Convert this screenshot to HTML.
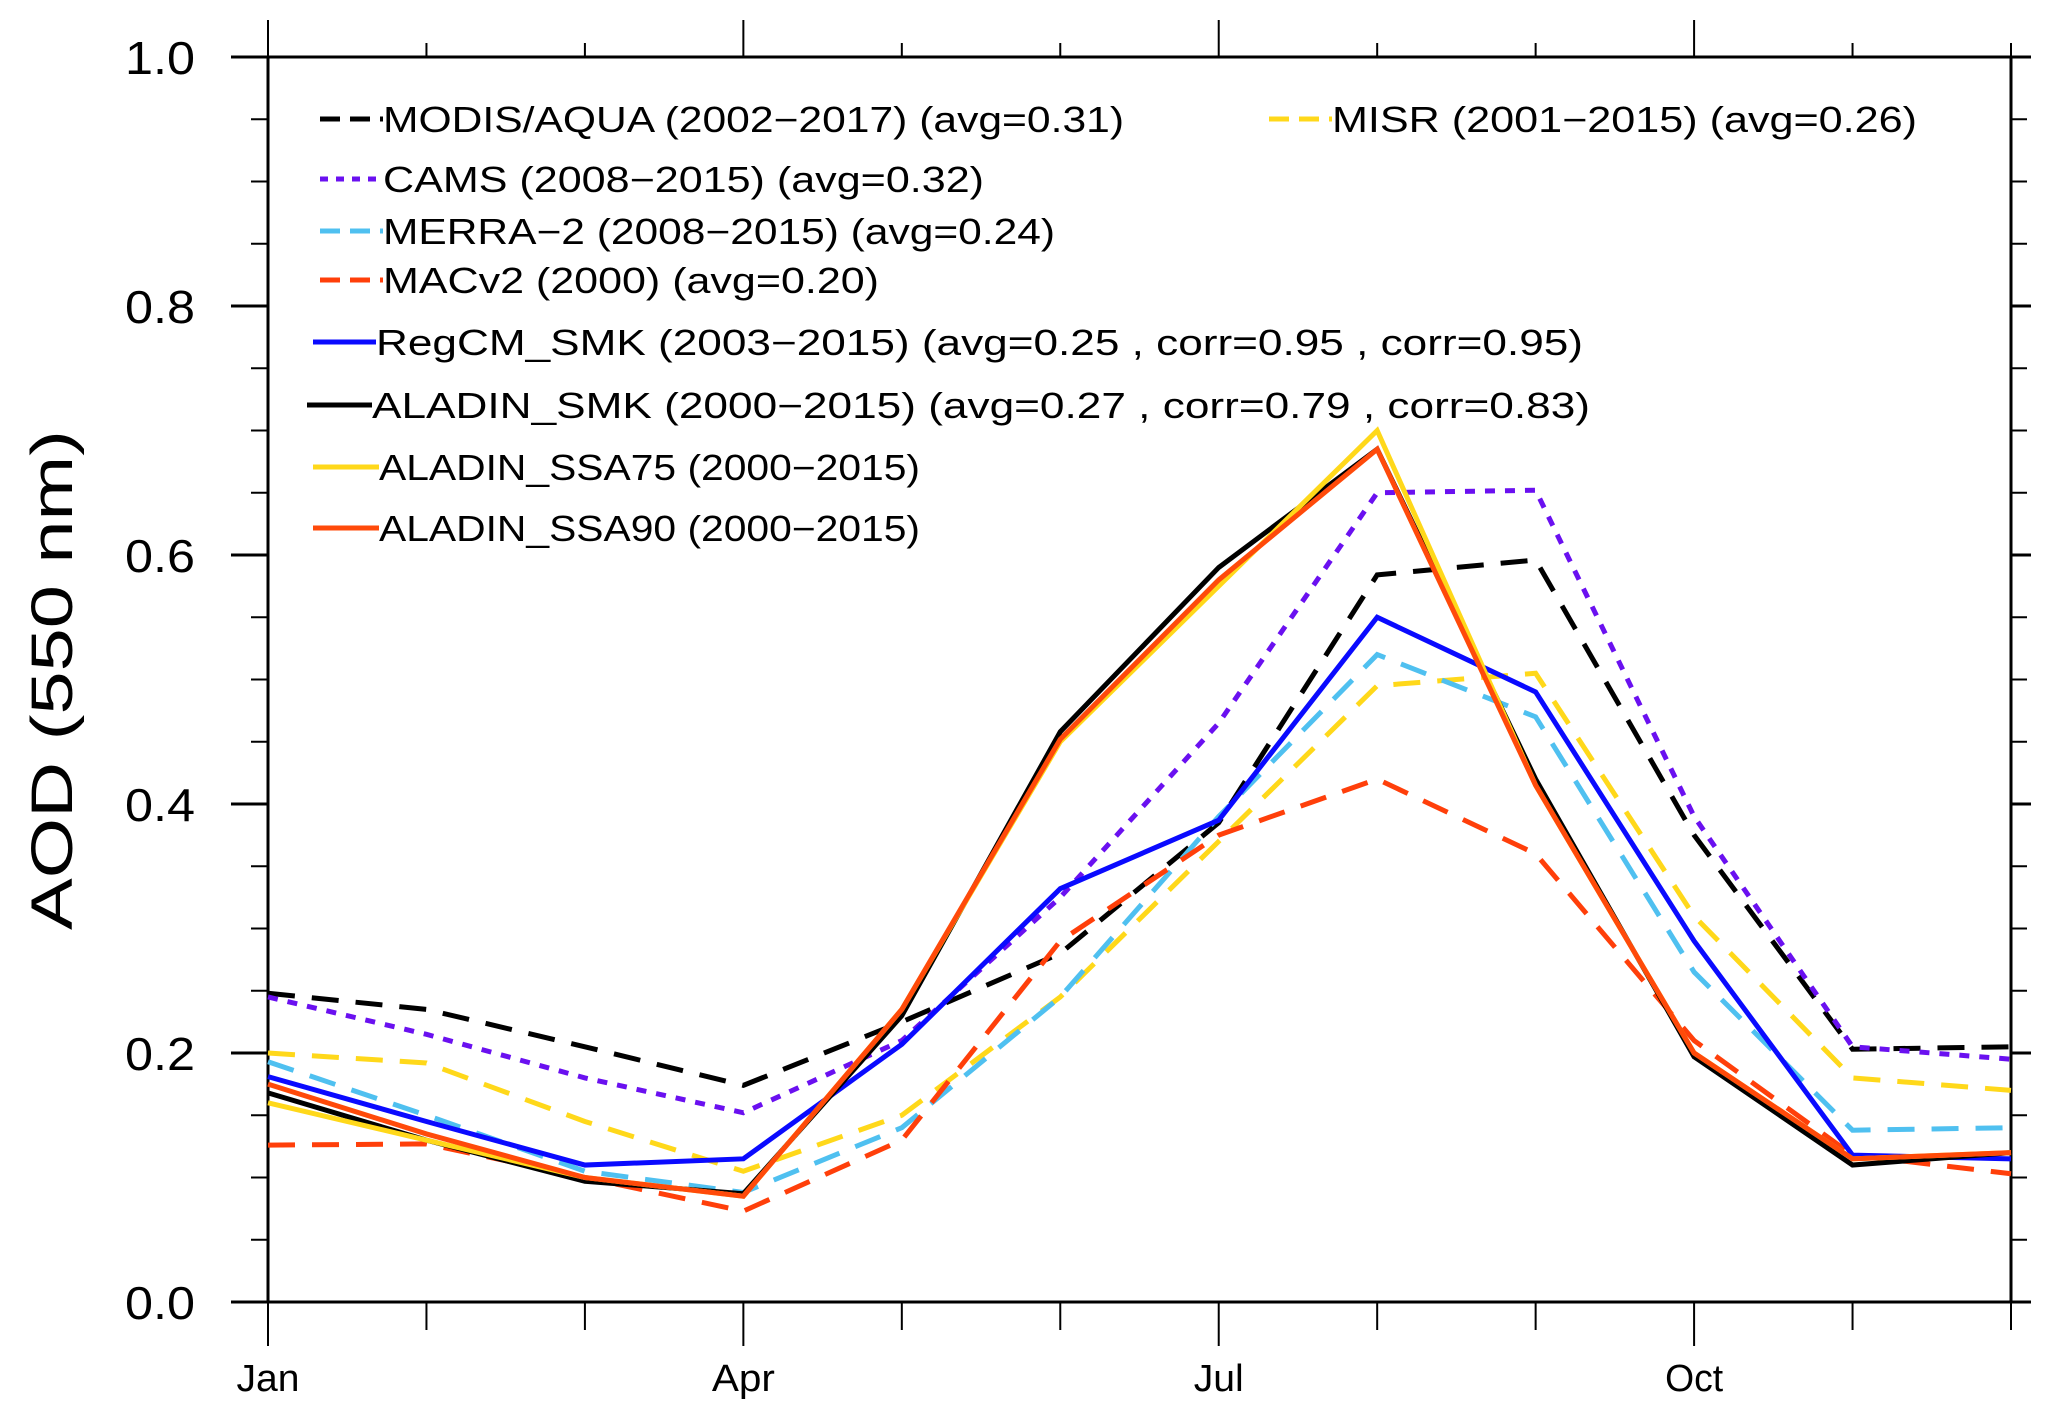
<!DOCTYPE html>
<html><head><meta charset="utf-8"><style>
html,body{margin:0;padding:0;background:#fff}
svg{display:block}
text{font-family:"Liberation Sans",sans-serif}
</style></head><body>
<svg id="chart" width="2067" height="1416" viewBox="0 0 2067 1416" xmlns="http://www.w3.org/2000/svg">
<g id="axes"></g>
<g id="series"></g>
<g id="legend"></g>
<text transform="translate(72,680) rotate(-90)" text-anchor="middle" font-size="58" textLength="500" lengthAdjust="spacingAndGlyphs">AOD (550 nm)</text>
</svg>
<script>
const months = ["Jan","Feb","Mar","Apr","May","Jun","Jul","Aug","Sep","Oct","Nov","Dec"];
const xTickLabels = ["Jan","Apr","Jul","Oct"];
const yTickLabels = ["0.0","0.2","0.4","0.6","0.8","1.0"];
const modis = [0.248,0.235,0.205,0.174,0.225,0.28,0.385,0.584,0.596,0.375,0.203,0.205];
const misr = [0.2,0.192,0.145,0.105,0.15,0.245,0.37,0.495,0.505,0.31,0.18,0.17];
const cams = [0.245,0.215,0.18,0.152,0.21,0.325,0.465,0.65,0.652,0.39,0.205,0.195];
const merra = [0.193,0.15,0.105,0.088,0.14,0.245,0.39,0.52,0.47,0.265,0.138,0.14];
const macv2 = [0.126,0.127,0.1,0.073,0.13,0.29,0.375,0.42,0.36,0.21,0.118,0.103];
const regcm = [0.181,0.145,0.11,0.115,0.207,0.332,0.387,0.55,0.49,0.29,0.118,0.115];
const aladinSmk = [0.168,0.13,0.097,0.087,0.23,0.458,0.59,0.685,0.42,0.197,0.11,0.12];
const aladinSsa75 = [0.16,0.13,0.1,0.085,0.235,0.45,0.575,0.7,0.415,0.2,0.115,0.12];
const aladinSsa90 = [0.175,0.135,0.1,0.085,0.235,0.452,0.58,0.685,0.415,0.2,0.115,0.12];

const NS="http://www.w3.org/2000/svg";
const X0=268,X1=2011,Y0=1302,Y1=57;
const xLabelW=[63,63,50,58];
function xs(i){return X0+(X1-X0)*i/11;}
function ys(v){return Y0-(Y0-Y1)*v;}
function mk(tag,attrs,parent){const e=document.createElementNS(NS,tag);for(const k in attrs)e.setAttribute(k,attrs[k]);parent.appendChild(e);return e;}
const axes=document.getElementById('axes');
const frame=mk('rect',{x:X0,y:Y1,width:X1-X0,height:Y0-Y1,fill:'none',stroke:'#000','stroke-width':3},axes);


for(let i=0;i<12;i++){
  const major=i%3===0;
  const x=xs(i);
  const tb=mk('line',{x1:x,x2:x,y1:Y0,y2:major?1346:1330,stroke:'#000','stroke-width':2},axes);
  
  
  const tt=mk('line',{x1:x,x2:x,y1:Y1,y2:major?20:43,stroke:'#000','stroke-width':2},axes);
  
  
  if(major){
    const t=mk('text',{x:x,y:1391,'text-anchor':'middle','font-size':38,textLength:xLabelW[i/3],lengthAdjust:'spacingAndGlyphs'},axes);
    t.textContent=xTickLabels[i/3];
    
    
  }
}
for(let j=0;j<=20;j++){
  const v=j*0.05, y=ys(v), major=j%4===0;
  const tl=mk('line',{x1:major?231:251,x2:X0,y1:y,y2:y,stroke:'#000','stroke-width':major?3:2},axes);
  
  
  const tr=mk('line',{x1:X1,x2:major?2031:2027,y1:y,y2:y,stroke:'#000','stroke-width':major?3:2},axes);
  
  
  if(major){
    const t=mk('text',{x:195,y:y+17,'text-anchor':'end','font-size':46,textLength:70,lengthAdjust:'spacingAndGlyphs'},axes);
    t.textContent=yTickLabels[j/4];
    
    
  }
}
const series=[
 {d:modis,c:'#000',dash:'27 17',name:'modis',label:'MODIS/AQUA (2002\u22122017) (avg=0.31)',lx:320,ly:119,tx:383,tw:741},
 {d:misr,c:'#ffd81a',dash:'27 17',name:'misr',label:'MISR (2001\u22122015) (avg=0.26)',lx:1269,ly:119,tx:1332,tw:585},
 {d:cams,c:'#6a10f0',dash:'10 10',name:'cams',label:'CAMS (2008\u22122015) (avg=0.32)',lx:320,ly:179,tx:383,tw:601},
 {d:merra,c:'#4fc0f0',dash:'27 17',name:'merra-2',label:'MERRA\u22122 (2008\u22122015) (avg=0.24)',lx:320,ly:231,tx:383,tw:672},
 {d:macv2,c:'#ff3f0a',dash:'27 17',name:'macv2',label:'MACv2 (2000) (avg=0.20)',lx:320,ly:280,tx:383,tw:496},
 {d:regcm,c:'#0a0aff',dash:'',name:'regcm-smk',label:'RegCM_SMK (2003\u22122015) (avg=0.25 , corr=0.95 , corr=0.95)',lx:313,ly:342,tx:376,tw:1207},
 {d:aladinSmk,c:'#000',dash:'',name:'aladin-smk',label:'ALADIN_SMK (2000\u22122015) (avg=0.27 , corr=0.79 , corr=0.83)',lx:307,ly:405,tx:372,tw:1218},
 {d:aladinSsa75,c:'#ffd81a',dash:'',name:'aladin-ssa75',label:'ALADIN_SSA75 (2000\u22122015)',lx:313,ly:467,tx:379,tw:541},
 {d:aladinSsa90,c:'#ff4a0a',dash:'',name:'aladin-ssa90',label:'ALADIN_SSA90 (2000\u22122015)',lx:313,ly:528,tx:379,tw:541}
];
const sg=document.getElementById('series'), lg=document.getElementById('legend');
series.forEach(s=>{
  const pts=s.d.map((v,i)=>xs(i)+','+ys(v)).join(' ');
  const p=mk('polyline',{points:pts,fill:'none',stroke:s.c,'stroke-width':5,'stroke-linejoin':'miter'},sg);
  if(s.dash)p.setAttribute('stroke-dasharray',s.dash);
  
  
  const ll=mk('line',{x1:s.lx,x2:s.tx,y1:s.ly,y2:s.ly,stroke:s.c,'stroke-width':5},lg);
  if(s.dash)ll.setAttribute('stroke-dasharray',s.dash==='10 10'?'8 8':'20 10');
  
  
  const t=mk('text',{x:s.tx,y:s.ly+13,'font-size':36,textLength:s.tw,lengthAdjust:'spacingAndGlyphs'},lg);
  t.textContent=s.label;
  
  
});
</script>
</body></html>
